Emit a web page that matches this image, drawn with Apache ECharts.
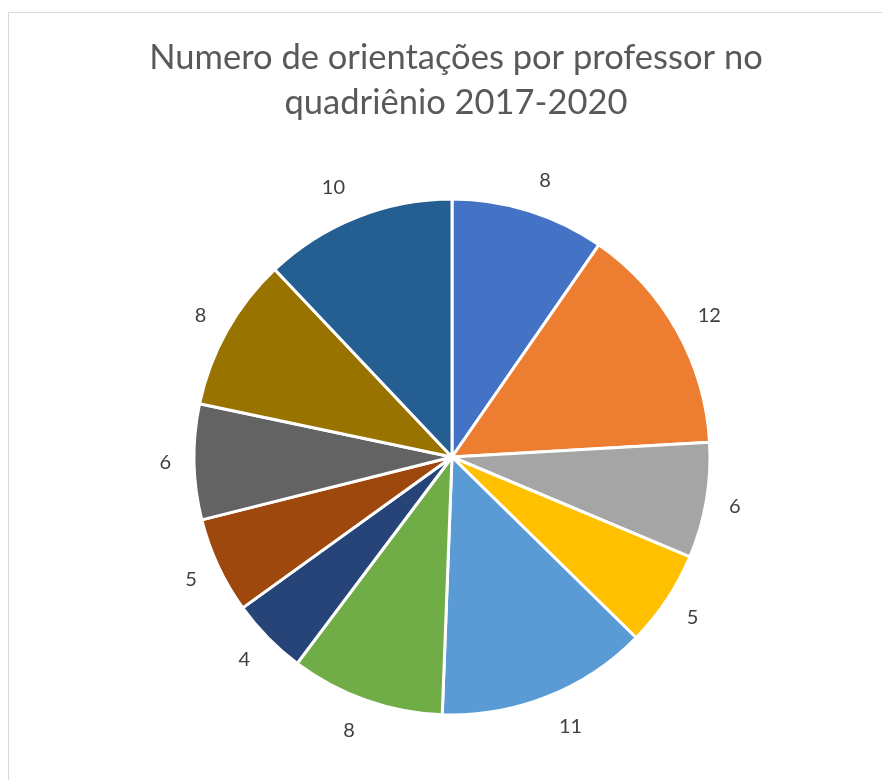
<!DOCTYPE html>
<html>
<head>
<meta charset="utf-8">
<script src="https://cdn.jsdelivr.net/npm/echarts@6/dist/echarts.min.js"></script>
<style>
html,body{margin:0;padding:0;background:#fff;}
#frame{position:absolute;left:8px;top:12px;width:900px;height:800px;border:1px solid #D9D9D9;box-sizing:border-box;}
#chart{position:absolute;left:0;top:0;width:882px;height:780px;}
</style>
</head>
<body>
<div id="frame"></div>
<div id="chart"></div>
<script>
const titleLines = ["Numero de orientações por professor no", "quadriênio 2017-2020"];
const categories = ["P1","P2","P3","P4","P5","P6","P7","P8","P9","P10","P11"];
const values = [8, 12, 6, 5, 11, 8, 4, 5, 6, 8, 10];
const colors = ["#4472C4","#ED7D31","#A5A5A5","#FFC000","#5B9BD5","#70AD47","#264478","#9E480E","#636363","#997300","#255E91"];

const CX = 452, CY = 457;
const chart = echarts.init(document.getElementById('chart'), null, {renderer:'canvas'});
chart.setOption({
  animation:false,
  title:{
    text: titleLines.join('\n'),
    left:451,
    textAlign:'center',
    top:30,
    textStyle:{fontFamily:'Lato',fontSize:34.5,fontWeight:'normal',color:'#595959',lineHeight:45}
  },
  series:[{
    type:'pie',
    center:[CX,CY],
    radius:[0,258],
    startAngle:90,
    clockwise:true,
    color:colors,
    itemStyle:{borderColor:'#fff',borderWidth:3},
    label:{show:true,position:'outside',formatter:'{c}',fontFamily:'Lato',fontSize:20,color:'#404040'},
    labelLine:{show:false,length:18,length2:0},
    labelLayout:function(p){
      const r = p.labelRect;
      const lx = r.x + r.width/2 - CX, ly = r.y + r.height/2 - CY;
      const d = Math.sqrt(lx*lx+ly*ly) || 1;
      return {dy: ly/d*14};
    },
    data: categories.map((c,i)=>({name:c,value:values[i]}))
  }]
});
</script>
</body>
</html>
